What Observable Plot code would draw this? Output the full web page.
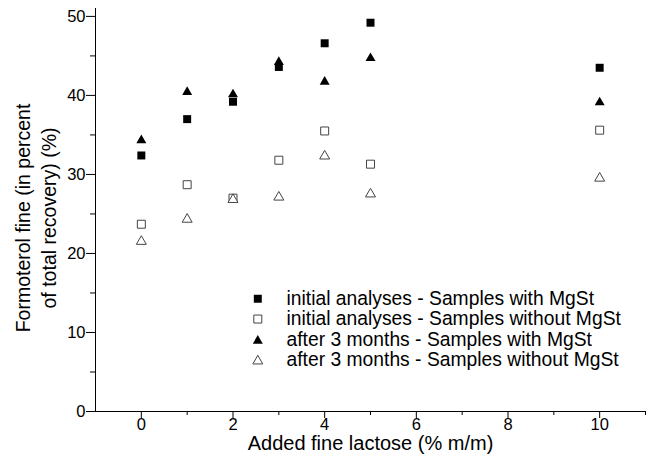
<!DOCTYPE html>
<html>
<head>
<meta charset="utf-8">
<script src="https://cdn.jsdelivr.net/npm/d3@7"></script>
<script src="https://cdn.jsdelivr.net/npm/@observablehq/plot@0.6"></script>
<style>
  html, body { margin: 0; padding: 0; background: #fff; }
  #chart svg { display: block; }
</style>
</head>
<body>
<div id="chart"></div>
<script>
// ---- data ----
const lactose = [0, 1, 2, 3, 4, 5, 10];
const initialWith    = [32.4, 37.0, 39.2, 43.6, 46.6, 49.2, 43.5];
const initialWithout = [23.7, 28.7, 27.0, 31.8, 35.5, 31.3, 35.6];
const afterWith      = [34.5, 40.6, 40.3, 44.4, 41.9, 44.9, 39.3];
const afterWithout   = [21.7, 24.5, 27.0, 27.3, 32.5, 27.7, 29.7];

const seriesNames = [
  "initial analyses - Samples with MgSt",
  "initial analyses - Samples without MgSt",
  "after 3 months - Samples with MgSt",
  "after 3 months - Samples without MgSt"
];
const seriesValues = [initialWith, initialWithout, afterWith, afterWithout];

const xMajorTicks = [0, 2, 4, 6, 8, 10];
const xMinorTicks = [1, 3, 5, 7, 9, 11];
const yMajorTicks = [0, 10, 20, 30, 40, 50];
const yMinorTicks = [5, 15, 25, 35, 45];

const xLabel = "Added fine lactose (% m/m)";
const yLabel = "Formoterol fine (in percent\nof total recovery) (%)";

// ---- symbols (bbox-centred) ----
const squareSym = { draw(ctx, size) { const s = Math.sqrt(size) / 2; ctx.rect(-s, -s, 2 * s, 2 * s); } };
const triangleSym = { draw(ctx, size) {
  const w = Math.sqrt(size) * 1.25, h = w * 0.866;
  ctx.moveTo(0, -h / 2); ctx.lineTo(w / 2, h / 2); ctx.lineTo(-w / 2, h / 2); ctx.closePath();
} };

const styles = [
  { symbol: squareSym,   fill: "black", stroke: "none" },
  { symbol: squareSym,   fill: "white", stroke: "#444" },
  { symbol: triangleSym, fill: "black", stroke: "none" },
  { symbol: triangleSym, fill: "white", stroke: "#444" }
];

const rows = [];
seriesValues.forEach((vals, s) => vals.forEach((v, i) => rows.push({ x: lactose[i], y: v, s })));

const font = "'Liberation Sans', Arial, sans-serif";
const R = 4.5;

const marks = [
  Plot.ruleX([-1], { stroke: "black", strokeWidth: 1 }),
  Plot.ruleY([0], { stroke: "black", strokeWidth: 1 }),
  Plot.axisY({ ticks: yMajorTicks, tickSize: 9, tickPadding: 1, fontSize: 16.5, label: null }),
  Plot.axisY({ ticks: yMinorTicks, tickSize: 5, tickFormat: () => "", label: null }),
  Plot.axisX({ ticks: xMajorTicks, tickSize: 7, tickPadding: 0, fontSize: 16.5, label: null }),
  Plot.axisX({ ticks: xMinorTicks, tickSize: 4, tickFormat: () => "", label: null }),
  Plot.text([xLabel], { frameAnchor: "bottom", dy: 32, fontSize: 20, textAnchor: "middle", lineAnchor: "middle" }),
  Plot.text([yLabel], { frameAnchor: "left", dx: -61, dy: 8, rotate: -90, fontSize: 19.5, lineHeight: 1.33, textAnchor: "middle", lineAnchor: "middle" })
];

// data points, open markers first then filled
[1, 3, 0, 2].forEach(s => {
  marks.push(Plot.dot(rows.filter(d => d.s === s), {
    x: "x", y: "y", r: R, symbol: styles[s].symbol, fill: styles[s].fill, stroke: styles[s].stroke, strokeWidth: 1
  }));
});

// legend inside the frame
seriesNames.forEach((name, s) => {
  const dy = 290.25 + s * 20.3;
  marks.push(Plot.dot([name], { frameAnchor: "top-left", dx: 162.3, dy, r: R, symbol: styles[s].symbol, fill: styles[s].fill, stroke: styles[s].stroke, strokeWidth: 1 }));
  marks.push(Plot.text([name], { frameAnchor: "top-left", dx: 191, dy, text: d => d, textAnchor: "start", lineAnchor: "middle", fontSize: 19.3 }));
});

const chart = Plot.plot({
  width: 656,
  height: 460,
  marginLeft: 95,
  marginRight: 11,
  marginTop: 8,
  marginBottom: 49,
  style: { fontFamily: font, color: "black", background: "white", overflow: "visible" },
  x: { domain: [-1, 11] },
  y: { domain: [0, 51] },
  marks
});
document.getElementById("chart").appendChild(chart);
</script>
</body>
</html>
